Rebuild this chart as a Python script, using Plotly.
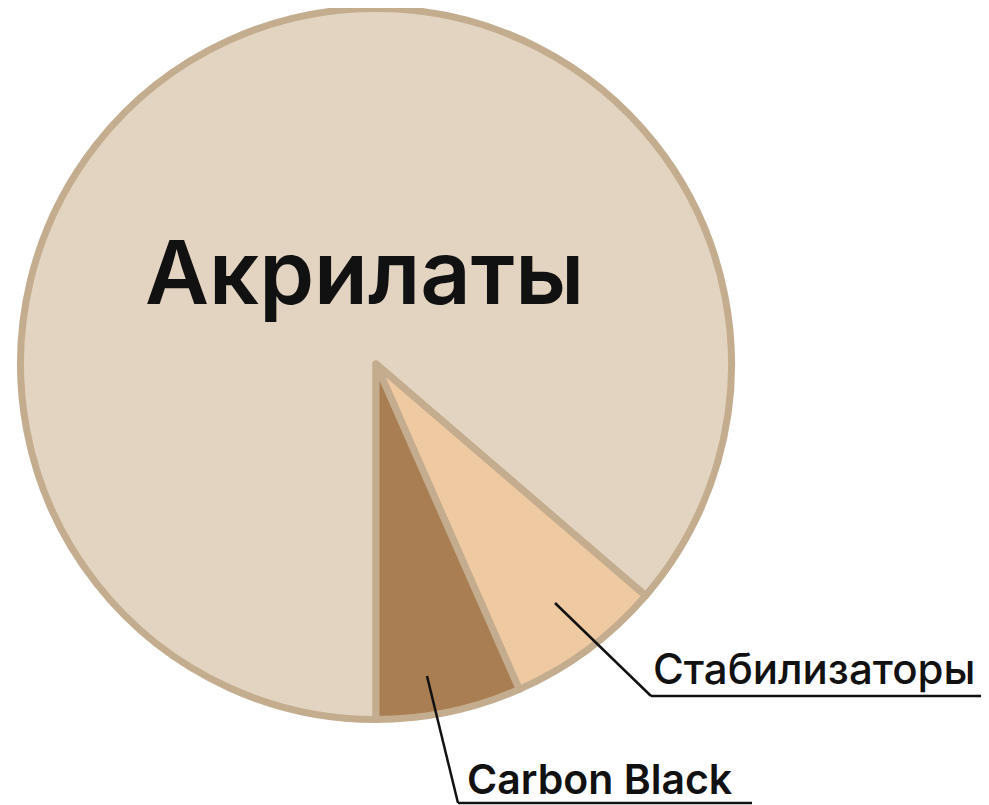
import plotly.graph_objects as go

labels = ["Акрилаты", "Стабилизаторы", "Carbon Black"]
values = [86.3, 7.1, 6.6]
colors = ["#E3D3C1", "#EEC9A1", "#A97E52"]
border_color = "#C4AC8E"

# the page body has an 8px margin; the figure is sized to fit the window
W, H = 981, 797

def px(x):
    return x / W

def py(y):
    return 1 - y / H

cx, cy, r = 368, 356, 355.5

fig = go.Figure(go.Pie(
    labels=labels,
    values=values,
    sort=False,
    direction="clockwise",
    rotation=180,
    textinfo="none",
    hoverinfo="label+percent",
    marker=dict(colors=colors, line=dict(color=border_color, width=7)),
    domain=dict(x=[px(cx - r), px(cx + r)], y=[py(cy + r), py(cy - r)]),
    showlegend=False,
))

font_family = "Inter, 'Open Sans', 'Noto Sans', sans-serif"

fig.add_annotation(
    x=px(356), y=py(264), xref="paper", yref="paper",
    text=labels[0], showarrow=False,
    font=dict(family=font_family, size=88, color="#111111", weight=600),
    xanchor="center", yanchor="middle",
)
fig.add_annotation(
    x=px(643), y=py(660), xref="paper", yref="paper",
    text=labels[1], showarrow=False,
    font=dict(family=font_family, size=42, color="#111111", weight=500),
    xanchor="left", yanchor="middle",
)
fig.add_annotation(
    x=px(457), y=py(771), xref="paper", yref="paper",
    text=labels[2], showarrow=False,
    font=dict(family=font_family, size=41, color="#111111", weight=600),
    xanchor="left", yanchor="middle",
)

line_style = dict(color="#111111", width=2.5)
for (x0, y0, x1, y1) in [
    (547, 595, 643, 688), (643, 688, 977, 688),
    (419, 668, 450, 795), (450, 795, 744, 795),
]:
    fig.add_shape(type="line", xref="paper", yref="paper",
                  x0=px(x0), y0=py(y0), x1=px(x1), y1=py(y1), line=line_style)

fig.update_layout(
    width=W, height=H, autosize=False,
    margin=dict(l=0, r=0, t=0, b=0),
    paper_bgcolor="white", plot_bgcolor="white",
)

fig.write_html("out.html")
